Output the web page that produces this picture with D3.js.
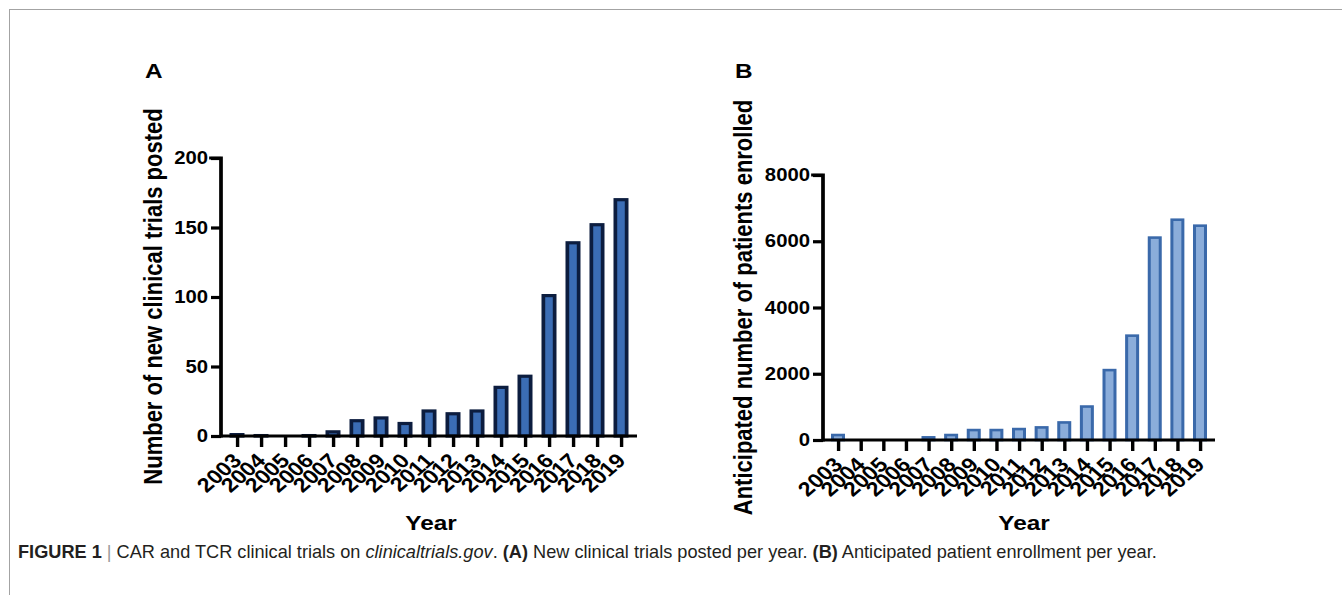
<!DOCTYPE html>
<html><head><meta charset="utf-8">
<script src="https://cdn.jsdelivr.net/npm/d3@7/dist/d3.min.js"></script>
<style>
html,body{margin:0;padding:0;background:#fff;}
svg{display:block;}
text{font-family:"Liberation Sans",Arial,Helvetica,sans-serif;}
</style></head>
<body>
<svg id="c" width="1342" height="595"></svg>
<script>
// ---- data ----
const years = ["2003","2004","2005","2006","2007","2008","2009","2010","2011","2012","2013","2014","2015","2016","2017","2018","2019"];
const trialsPosted = [1,0.3,0,0.3,3,11,13,9,18,16,18,35,43,101,139,152,170];
const patientsEnrolled = [150,0,0,0,80,150,300,300,330,380,530,1010,2110,3150,6110,6650,6470];
const ticksA = [0,50,100,150,200];
const ticksB = [0,2000,4000,6000,8000];

const svg = d3.select("#c");
const SX = 1.16; // horizontal stretch of the figure
const ix = v => v / SX;

// border
svg.append("line").attr("x1",9).attr("x2",1342).attr("y1",9.5).attr("y2",9.5).attr("stroke","#a3a3a3").attr("stroke-width",1);
svg.append("line").attr("x1",9.5).attr("x2",9.5).attr("y1",9).attr("y2",595).attr("stroke","#a3a3a3").attr("stroke-width",1);

const fig = svg.append("g").attr("transform",`scale(${SX},1)`);

function panel(cfg){
  const g = fig.append("g");
  const x = d3.scalePoint().domain(years).range([ix(cfg.x0), ix(cfg.x1)]);
  const y = d3.scaleLinear().domain([0, cfg.max]).range([cfg.yBottom, cfg.yTop]);
  // bars
  const bw = ix(cfg.barOuter) - cfg.barStroke;
  g.selectAll("rect.bar").data(cfg.values).join("rect")
    .attr("class","bar")
    .attr("x",(d,i)=>x(years[i]) - bw/2)
    .attr("width",bw)
    .attr("y",d=>y(d))
    .attr("height",d=>Math.max(0,y(0)-y(d)))
    .attr("fill",cfg.fill).attr("stroke",cfg.stroke).attr("stroke-width",cfg.barStroke)
    .attr("display",d=> d>0 ? null : "none");
  // y axis
  const yAxis = d3.axisLeft(y).tickValues(cfg.ticks).tickSize(ix(10)).tickPadding(ix(3)).tickFormat(d3.format("d"));
  const ya = g.append("g").attr("transform",`translate(${ix(cfg.axisX)},0)`).call(yAxis);
  ya.select(".domain").attr("d",`M${-ix(10)},${cfg.yTop}H0V${cfg.yBottom}`).attr("stroke","#000").attr("stroke-width",3.2).attr("stroke-linecap","square");
  ya.selectAll(".tick line").attr("stroke","#000").attr("stroke-width",3.2);
  ya.selectAll(".tick text").attr("font-size",17.5).attr("font-weight","bold").attr("fill","#000");
  // x axis
  const xAxis = d3.axisBottom(x).tickSize(11).tickFormat(()=>"");
  const xa = g.append("g").attr("transform",`translate(0,${cfg.yBottom})`).call(xAxis);
  xa.select(".domain").attr("d",`M${ix(cfg.axisX)},0H${ix(cfg.axisEnd)}`).attr("stroke","#000").attr("stroke-width",3.2);
  xa.selectAll(".tick line").attr("stroke","#000").attr("stroke-width",ix(3.4));
  g.selectAll("text.xl").data(years).join("text").attr("class","xl")
    .attr("transform",d=>`translate(${x(d)+ix(6)},${cfg.yBottom+26}) rotate(-45)`)
    .attr("text-anchor","end").attr("font-size",20).attr("font-weight","bold").text(d=>d);
  // titles
  g.append("text").attr("transform",`translate(${ix(cfg.yTitleX)},${cfg.yTitleY}) rotate(-90)`)
    .attr("text-anchor","middle").attr("font-size",22).attr("font-weight","bold").text(cfg.yTitle);
  g.append("text").attr("x",ix(cfg.xTitleX)).attr("y",530).attr("text-anchor","middle")
    .attr("font-size",21).attr("font-weight","bold").text("Year");
  g.append("text").attr("x",ix(cfg.letterX)).attr("y",78).attr("font-size",21).attr("font-weight","bold").text(cfg.letter);
}

panel({values:trialsPosted, ticks:ticksA, max:200, x0:237, x1:621, axisX:221, axisEnd:637,
  yTop:158, yBottom:436, barOuter:15, barStroke:3.2, fill:"#3b6db5", stroke:"#0c1d3f",
  yTitle:"Number of new clinical trials posted", yTitleX:161.5, yTitleY:296.5, xTitleX:431, letterX:145, letter:"A"});
panel({values:patientsEnrolled, ticks:ticksB, max:8000, x0:838, x1:1200, axisX:823, axisEnd:1215,
  yTop:175, yBottom:440, barOuter:14, barStroke:2.6, fill:"#8badda", stroke:"#3a69aa",
  yTitle:"Anticipated number of patients enrolled", yTitleX:751.5, yTitleY:307.5, xTitleX:1024, letterX:735, letter:"B"});

// caption
const cap = svg.append("text").attr("x",0).attr("y",558).attr("font-size",18).attr("fill","#231f20");
cap.append("tspan").attr("font-weight","bold").text("FIGURE 1");
cap.append("tspan").attr("fill","#999").text(" | ");
cap.append("tspan").text("CAR and TCR clinical trials on ");
cap.append("tspan").attr("font-style","italic").text("clinicaltrials.gov");
cap.append("tspan").text(". ");
cap.append("tspan").attr("font-weight","bold").text("(A)");
cap.append("tspan").text(" New clinical trials posted per year. ");
cap.append("tspan").attr("font-weight","bold").text("(B)");
cap.append("tspan").text(" Anticipated patient enrollment per year.");
const w = cap.node().getComputedTextLength();
const k = 1139 / w;
cap.attr("transform",`translate(18,0) scale(${k},1)`);
</script>
</body></html>
